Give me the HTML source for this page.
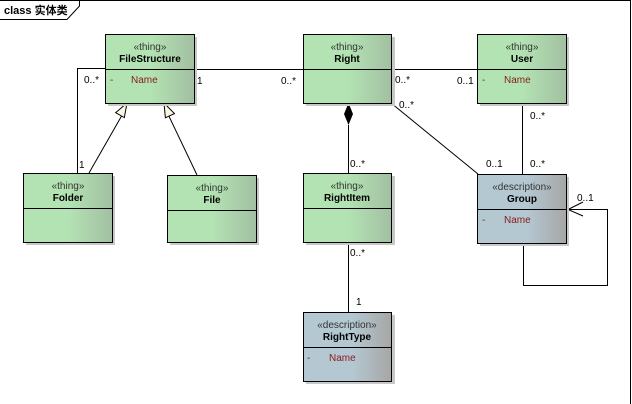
<!DOCTYPE html>
<html><head><meta charset="utf-8"><style>
html,body{margin:0;padding:0;background:#fff;}
svg{display:block;font-family:"Liberation Sans","Noto Sans CJK SC",sans-serif;}
.st{font-size:10px;fill:#333;text-anchor:middle}
.nm{font-size:10px;font-weight:bold;fill:#000;text-anchor:middle}
.at{font-size:10px;fill:#8b1a1a}
.m{font-size:10px;fill:#000}
</style></head><body>
<svg width="632" height="404" viewBox="0 0 632 404">
<defs>
<linearGradient id="g" x1="0" x2="1" y1="0" y2="0"><stop offset="0" stop-color="#b3e3b3"/><stop offset="0.5" stop-color="#b3e3b3"/><stop offset="1" stop-color="#a2bfa2"/></linearGradient>
<linearGradient id="b" x1="0" x2="1" y1="0" y2="0"><stop offset="0" stop-color="#b4c8d2"/><stop offset="0.55" stop-color="#b4c8d2"/><stop offset="1" stop-color="#a6a6a6"/></linearGradient>
</defs>
<!-- frame -->
<path d="M0 0.5 H630.5 V404" fill="none" stroke="#000"/>
<path d="M0 19.5 H67 L79.5 6 V0.5" fill="none" stroke="#000"/>
<text x="4" y="14" style="font-size:11px;font-weight:bold">class 实体类</text>

<!-- connectors -->
<g stroke="#000" fill="none" stroke-width="1">
<path d="M194 69.5 H303"/>
<path d="M391 69.5 H477"/>
<path d="M77.5 173 V68.5 H105"/>
<path d="M89 173 L125 110"/>
<path d="M197 175 L166 110"/>
<path d="M348.5 125 V173"/>
<path d="M391 103 L478 174"/>
<path d="M522.5 103 V174"/>
<path d="M523.5 243 V285.5 H607.5 V209.5 H567"/>
<path d="M583 202 L568 209.5 L583 216"/>
<path d="M348.5 242 V312"/>
</g>
<polygon points="127,103 122,117 132,117" fill="#fdf5e6" stroke="#000" transform="rotate(30 127 103)"/>
<polygon points="164,103 159,117 169,117" fill="#fdf5e6" stroke="#000" transform="rotate(-25 164 103)"/>
<polygon points="348.5,103 353,114 348.5,125 344,114" fill="#000"/>

<!-- classes -->
<g stroke="#000">
<rect x="108" y="37" width="89" height="69" fill="#c8c8c8" stroke="none"/>
<rect x="105.5" y="34.5" width="89" height="69" fill="url(#g)"/><path d="M105.5 69.5 H194.5"/>
<rect x="306" y="37" width="89" height="69" fill="#c8c8c8" stroke="none"/>
<rect x="303.5" y="34.5" width="88" height="69" fill="url(#g)"/><path d="M303.5 69.5 H391.5"/>
<rect x="480" y="37" width="89" height="69" fill="#c8c8c8" stroke="none"/>
<rect x="477.5" y="34.5" width="89" height="69" fill="url(#g)"/><path d="M477.5 69.5 H566.5"/>
<rect x="26" y="176" width="89" height="69" fill="#c8c8c8" stroke="none"/>
<rect x="23.5" y="173.5" width="89" height="69" fill="url(#g)"/><path d="M23.5 208.5 H112.5"/>
<rect x="170" y="178" width="89" height="67" fill="#c8c8c8" stroke="none"/>
<rect x="167.5" y="175.5" width="89" height="67" fill="url(#g)"/><path d="M167.5 210.5 H256.5"/>
<rect x="306" y="176" width="89" height="69" fill="#c8c8c8" stroke="none"/>
<rect x="303.5" y="173.5" width="88" height="69" fill="url(#g)"/><path d="M303.5 208.5 H391.5"/>
<rect x="480" y="177" width="89" height="69" fill="#c8c8c8" stroke="none"/>
<rect x="477.5" y="174.5" width="89" height="69" fill="url(#b)"/><path d="M477.5 209.5 H566.5"/>
<rect x="306" y="315" width="89" height="69" fill="#c8c8c8" stroke="none"/>
<rect x="303.5" y="312.5" width="88" height="69" fill="url(#b)"/><path d="M303.5 347.5 H391.5"/>
</g>

<text class="st" x="150" y="50">«thing»</text><text class="nm" x="150" y="62">FileStructure</text>
<text class="at" x="110" y="83">-</text><text class="at" x="131" y="83">Name</text>
<text class="st" x="347" y="50">«thing»</text><text class="nm" x="347" y="62">Right</text>
<text class="st" x="522" y="50">«thing»</text><text class="nm" x="522" y="62">User</text>
<text class="at" x="482" y="83">-</text><text class="at" x="504" y="83">Name</text>
<text class="st" x="68" y="189">«thing»</text><text class="nm" x="68" y="201">Folder</text>
<text class="st" x="212" y="191">«thing»</text><text class="nm" x="212" y="203">File</text>
<text class="st" x="347" y="189">«thing»</text><text class="nm" x="347" y="201">RightItem</text>
<text class="st" x="522" y="190">«description»</text><text class="nm" x="522" y="202">Group</text>
<text class="at" x="482" y="223">-</text><text class="at" x="504" y="223">Name</text>
<text class="st" x="347" y="328">«description»</text><text class="nm" x="347" y="340">RightType</text>
<text class="at" x="307" y="361">-</text><text class="at" x="329" y="361">Name</text>

<!-- multiplicities -->
<text class="m" x="84" y="83">0..*</text>
<text class="m" x="197" y="84">1</text>
<text class="m" x="281" y="84">0..*</text>
<text class="m" x="79" y="168">1</text>
<text class="m" x="395" y="83">0..*</text>
<text class="m" x="457" y="84">0..1</text>
<text class="m" x="399" y="108">0..*</text>
<text class="m" x="530" y="119">0..*</text>
<text class="m" x="350" y="167">0..*</text>
<text class="m" x="486" y="167">0..1</text>
<text class="m" x="530" y="167">0..*</text>
<text class="m" x="577" y="201">0..1</text>
<text class="m" x="350" y="256">0..*</text>
<text class="m" x="356" y="305">1</text>
</svg>
</body></html>
